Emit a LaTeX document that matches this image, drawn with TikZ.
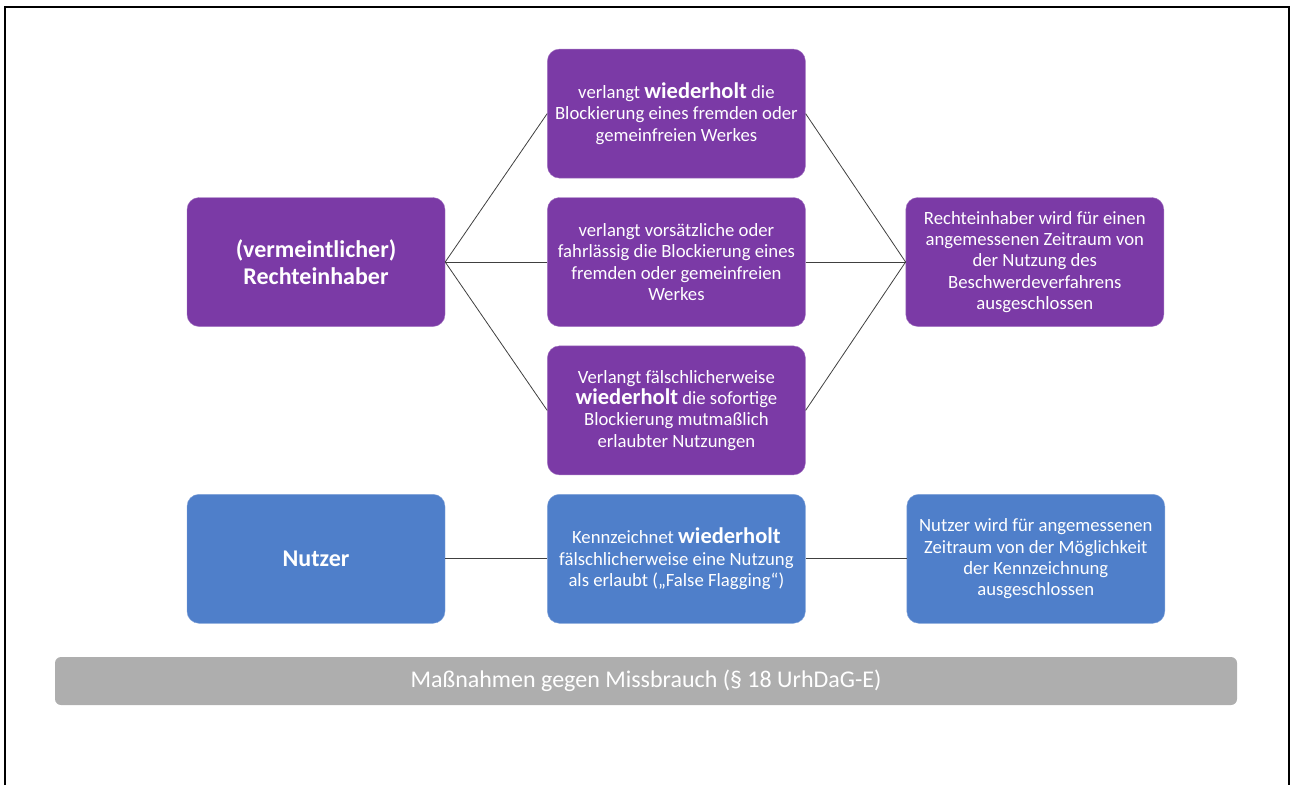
\documentclass[tikz,border=0pt]{standalone}
\usepackage{fontspec}
\setmainfont{Carlito}
\usepackage{tikz}
\usetikzlibrary{positioning}
\usepackage{xcolor}
\definecolor{boxpurple}{RGB}{123,58,166}
\definecolor{boxblue}{RGB}{79,127,202}
\definecolor{bargray}{RGB}{174,174,174}
\newcommand{\wdh}{{\fontsize{22.5}{21.5}\selectfont\bfseries wiederholt}}

\begin{document}
\begin{tikzpicture}[
    x=1pt, y=-1pt,
    box/.style={rounded corners=12pt, align=center, text=white, minimum width=258pt, minimum height=129pt, inner sep=2pt, font=\fontsize{18.7}{21.3}\selectfont},
    purplebox/.style={box, fill=boxpurple, draw=boxpurple!70!white},
    bluebox/.style={box, fill=boxblue, draw=boxblue!70!white},
    link/.style={draw=black!75, line width=0.8pt}
]
\useasboundingbox (0,0) rectangle (1291,785);
\draw[line width=2pt] (5,785) -- (5,7) -- (1289,7) -- (1289,785);

\node[purplebox, font=\fontsize{24}{27}\selectfont\bfseries] (holder) at (316,262) {(vermeintlicher)\\Rechteinhaber};
\node[purplebox, right=102pt of holder] (blockdeliberate) {verlangt vorsätzliche oder\\fahrlässig die Blockierung eines\\fremden oder gemeinfreien\\Werkes};
\node[purplebox, above=19pt of blockdeliberate] (blockrepeat) {verlangt \wdh{} die\\Blockierung eines fremden oder\\gemeinfreien Werkes};
\node[purplebox, below=19pt of blockdeliberate] (blockfalse) {Verlangt fälschlicherweise\\\wdh{} die sofortige\\Blockierung mutmaßlich\\erlaubter Nutzungen};
\node[purplebox, right=100pt of blockdeliberate] (holderban) {Rechteinhaber wird für einen\\angemessenen Zeitraum von\\der Nutzung des\\Beschwerdeverfahrens\\ausgeschlossen};

\node[bluebox, below=19pt of blockfalse] (flagging) {Kennzeichnet \wdh\\fälschlicherweise eine Nutzung\\als erlaubt („False Flagging“)};
\node[bluebox, left=102pt of flagging, font=\fontsize{24}{27}\selectfont\bfseries] (user) {Nutzer};
\node[bluebox, right=101pt of flagging] (userban) {Nutzer wird für angemessenen\\Zeitraum von der Möglichkeit\\der Kennzeichnung\\ausgeschlossen};

\node[rounded corners=6pt, fill=bargray, text=white, minimum width=1182pt, minimum height=48pt, font=\fontsize{24}{26}\selectfont] (measures) at (646,681) {Maßnahmen gegen Missbrauch (§ 18 UrhDaG-E)};

\draw[link] (holder.east) -- (blockrepeat.west);
\draw[link] (holder.east) -- (blockdeliberate.west);
\draw[link] (holder.east) -- (blockfalse.west);
\draw[link] (blockrepeat.east) -- (holderban.west);
\draw[link] (blockdeliberate.east) -- (holderban.west);
\draw[link] (blockfalse.east) -- (holderban.west);

\draw[link] (user.east) -- (flagging.west);
\draw[link] (flagging.east) -- (userban.west);

\end{tikzpicture}
\end{document}
